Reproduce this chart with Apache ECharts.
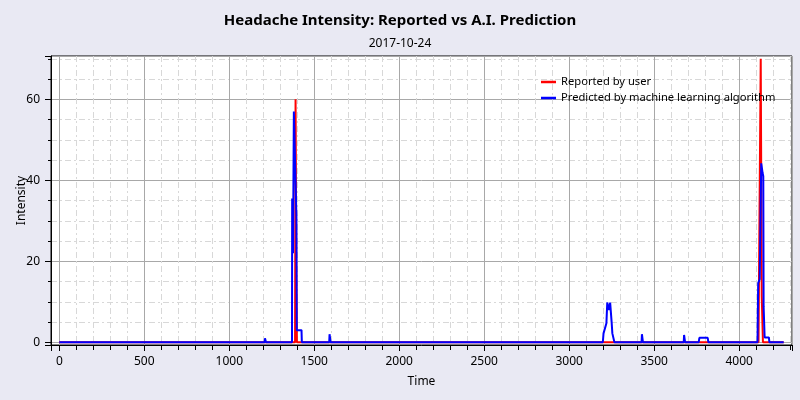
<!DOCTYPE html>
<html>
<head>
<meta charset="utf-8">
<style>
  html, body { margin: 0; padding: 0; background: #E9E9F3; }
  #chart { width: 800px; height: 400px; }
</style>
<script src="https://cdn.jsdelivr.net/npm/echarts@6/dist/echarts.min.js"></script>
</head>
<body>
<div id="chart"></div>
<script>
const chartTitle = 'Headache Intensity: Reported vs A.I. Prediction';
const chartDate = '2017-10-24';
const seriesNames = ['Reported by user', 'Predicted by machine learning algorithm'];

const redTime  = [0, 1387, 1390, 1392, 1394, 1398, 4114, 4116, 4124, 4127, 4130, 4133, 4137, 4140, 4262];
const redValue = [0, 0,    60,   60,   19,   0,    0,    11.4, 11.4, 70,   70,   11.4, 11.4, 0,    0];

const blueTime  = [0, 1208, 1210, 1214, 1216, 1369, 1370, 1373, 1375, 1380, 1390, 1395, 1397, 1425, 1427,
                   1588, 1590, 1594, 1596,
                   3198, 3202, 3212, 3219, 3224, 3229, 3235, 3241, 3247, 3250, 3254, 3262, 3266,
                   3426, 3428, 3432, 3434, 3674, 3676, 3680, 3682,
                   3762, 3766, 3815, 3819,
                   4108, 4112, 4121, 4130, 4138, 4142, 4144, 4150, 4175, 4178, 4262];
const blueValue = [0, 0,    1,    1,    0,    0,    35.5, 35.5, 22,   57,   57,   31,   3,    3,    0,
                   0,    2,    2,    0,
                   0,    2.2,  2.2,  4.7,  9.8,  9.8,  8,    9.8,  9.8,  4.8,  2.2,  2.2,  0,
                   0,    2,    2,    0,    0,    1.8,  1.8,  0,
                   0,    1.1,  1.1,  0,
                   0,    14.6, 15.6, 44.2, 41.8, 41,   8.8,  1.2,  1.2,  0,    0];

const xMin = -49, xMax = 4311;
const yMin = -0.67, yMax = 70.7;

const zip = (a, b) => a.map((v, i) => [v, b[i]]);

const FONT = 'Noto Sans';
const chart = echarts.init(document.getElementById('chart'), null, { renderer: 'canvas' });
chart.setOption({
  animation: false,
  backgroundColor: '#E9E9F3',
  textStyle: { fontFamily: FONT, color: '#000' },
  title: [
    { text: chartTitle, left: 'center', top: 8,
      textStyle: { fontFamily: FONT, fontSize: 15, fontWeight: 'bold', color: '#000' } },
    { text: chartDate, left: 'center', top: 33,
      textStyle: { fontFamily: FONT, fontSize: 12, fontWeight: 'normal', color: '#000' } }
  ],
  legend: {
    orient: 'vertical', left: 536, top: 69,
    icon: 'rect', itemWidth: 15, itemHeight: 2.5, itemGap: 0,
    textStyle: { fontFamily: FONT, fontSize: 11.2, color: '#000', lineHeight: 16 },
    data: seriesNames
  },
  grid: {
    left: 51, right: 8, top: 56, bottom: 55,
    outerBoundsMode: 'none', containLabel: false,
    show: true, backgroundColor: '#fff', borderColor: '#000', borderWidth: 1
  },
  xAxis: {
    type: 'value', min: xMin, max: xMax, splitNumber: 9,
    name: 'Time', nameLocation: 'middle', nameGap: 31, nameMoveOverlap: false,
    nameTextStyle: { fontFamily: FONT, fontSize: 12, color: '#000' },
    axisLine: { show: true, onZero: false, lineStyle: { color: '#000', width: 1 } },
    axisTick: { show: true, length: 6, lineStyle: { color: '#000' } },
    minorTick: { show: true, splitNumber: 5, length: 5, lineStyle: { color: '#000' } },
    axisLabel: { showMinLabel: false, showMaxLabel: false, margin: 11, fontSize: 12, color: '#000', fontFamily: FONT,
                 formatter: v => String(v) },
    splitLine: { show: true, lineStyle: { color: '#A8A8A8', width: 1 } },
    minorSplitLine: { show: true, lineStyle: { color: '#D8D8D8', width: 1, type: [6, 3, 2, 3] } }
  },
  yAxis: {
    type: 'value', min: yMin, max: yMax, splitNumber: 4,
    name: 'Intensity', nameLocation: 'middle', nameGap: 23, nameRotate: 90, nameMoveOverlap: false,
    nameTextStyle: { fontFamily: FONT, fontSize: 12, color: '#000' },
    axisLine: { show: true, onZero: false, lineStyle: { color: '#000', width: 1 } },
    axisTick: { show: true, length: 6, lineStyle: { color: '#000' } },
    minorTick: { show: true, splitNumber: 4, length: 3, lineStyle: { color: '#000' } },
    axisLabel: { showMinLabel: false, showMaxLabel: false, margin: 11, fontSize: 12, color: '#000', fontFamily: FONT,
                 formatter: v => String(v) },
    splitLine: { show: true, lineStyle: { color: '#A8A8A8', width: 1 } },
    minorSplitLine: { show: true, lineStyle: { color: '#D8D8D8', width: 1, type: [6, 3, 2, 3] } }
  },
  series: [
    { name: seriesNames[0], type: 'line', data: zip(redTime, redValue),
      showSymbol: false, symbol: 'none', color: '#FF0000',
      lineStyle: { color: '#FF0000', width: 2 }, z: 2 },
    { name: seriesNames[1], type: 'line', data: zip(blueTime, blueValue),
      showSymbol: false, symbol: 'none', color: '#0000FF',
      lineStyle: { color: '#0000FF', width: 2 }, z: 3 }
  ]
});
</script>
</body>
</html>
